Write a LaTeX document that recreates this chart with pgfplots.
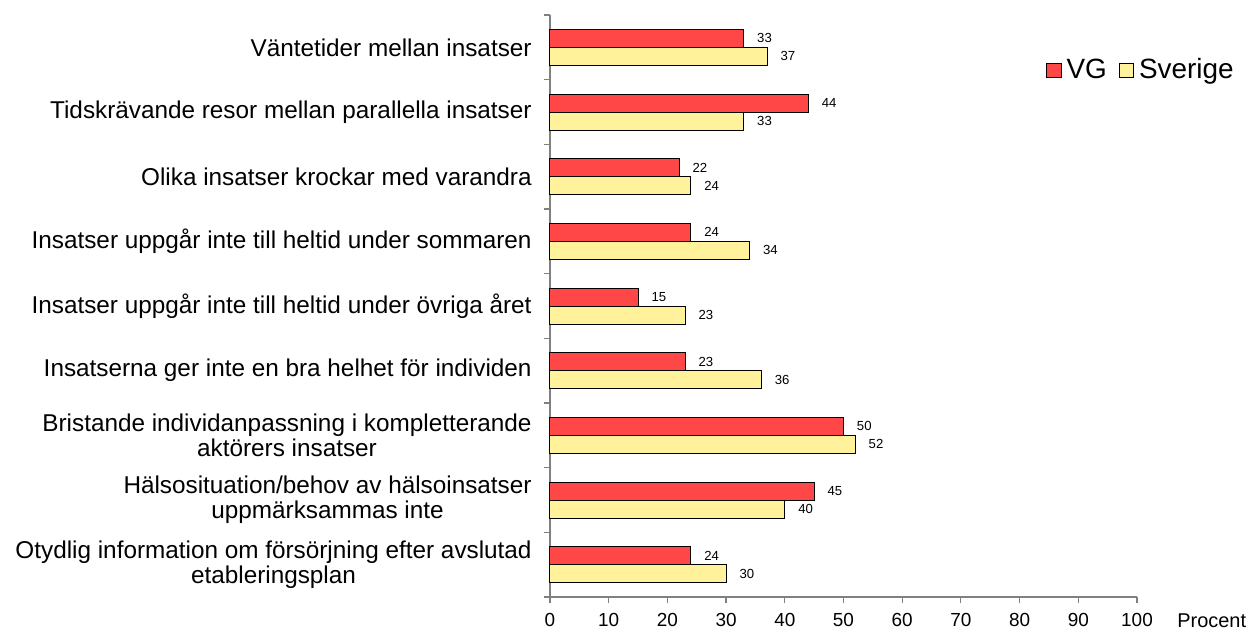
\documentclass[border=0pt]{standalone}
\usepackage{pgfplots}
\pgfplotsset{compat=1.18}
\usepackage{fontspec}
\setmainfont{Liberation Sans}
\definecolor{vgred}{RGB}{255,71,71}
\definecolor{sveyel}{RGB}{255,242,155}
\definecolor{axgray}{RGB}{128,128,128}
\begin{document}
\begin{tikzpicture}
\begin{axis}[
  scale only axis,
  width=293.5bp, height=291bp,
  xbar, bar width=9bp,
  xmin=0, xmax=100, xtick={0,10,...,100},
  ymin=-0.5, ymax=8.5, y dir=reverse,
  ytick={0,...,8},
  yticklabels={{Väntetider mellan insatser},
    {Tidskrävande resor mellan parallella insatser},
    {Olika insatser krockar med varandra},
    {Insatser uppgår inte till heltid under sommaren},
    {Insatser uppgår inte till heltid under övriga året},
    {Insatserna ger inte en bra helhet för individen},
    {Bristande individanpassning i kompletterande\\aktörers insatser},
    {Hälsosituation/behov av hälsoinsatser\\uppmärksammas inte},
    {Otydlig information om försörjning efter avslutad\\etableringsplan}},
  minor ytick={-0.5,0.5,...,8.5},
  axis lines*=left,
  axis line style={draw=axgray, line width=0.6pt},
  tick style={draw=axgray, line width=0.6pt},
  tick align=outside,
  major tick length=3bp,
  minor tick length=3bp,
  ytick style={draw=none},
  minor y tick style={draw=axgray, line width=0.6pt},
  y axis line style={-},
  x axis line style={-},
  /pgf/number format/assume math mode=true,
  xticklabel style={font=\fontsize{9.5}{11}\selectfont, inner sep=0pt, yshift=-5bp},
  yticklabel style={font=\fontsize{12.2}{12.6}\selectfont, align=center, inner sep=0pt, xshift=-6bp},
  nodes near coords,
  every node near coord/.append style={font=\fontsize{6.6}{7}\selectfont, anchor=west, inner sep=0pt, xshift=6.5bp},
  legend style={draw=none, fill=none, at={(rel axis cs:0.845,0.905)}, anchor=west, inner sep=0pt,
    font=\fontsize{14}{15}\selectfont, legend columns=2,
    nodes={inner sep=2.5bp},
    /tikz/every even column/.append style={column sep=3.5bp}},
  legend image code/.code={\draw[#1, draw=black, line width=0.4pt] (0bp,-3.6bp) rectangle (7.2bp,3.6bp);},
  clip=false,
]
\addplot[fill=vgred, draw=black, line width=0.5pt, bar shift=4.5bp] coordinates {
 (33,0) (44,1) (22,2) (24,3) (15,4) (23,5) (50,6) (45,7) (24,8)};
\addplot[fill=sveyel, draw=black, line width=0.5pt, bar shift=-4.5bp] coordinates {
 (37,0) (33,1) (24,2) (34,3) (23,4) (36,5) (52,6) (40,7) (30,8)};
\legend{VG,Sverige}
\coordinate (BL) at (rel axis cs:0,0);
\node[anchor=west, inner sep=0pt, font=\fontsize{10}{12}\selectfont] at (rel axis cs:1,0) [xshift=20bp, yshift=-12bp] {Procent};
\end{axis}
\path (BL) ++(-275bp,-17bp) rectangle ++(626bp,315.5bp);
\end{tikzpicture}
\end{document}
